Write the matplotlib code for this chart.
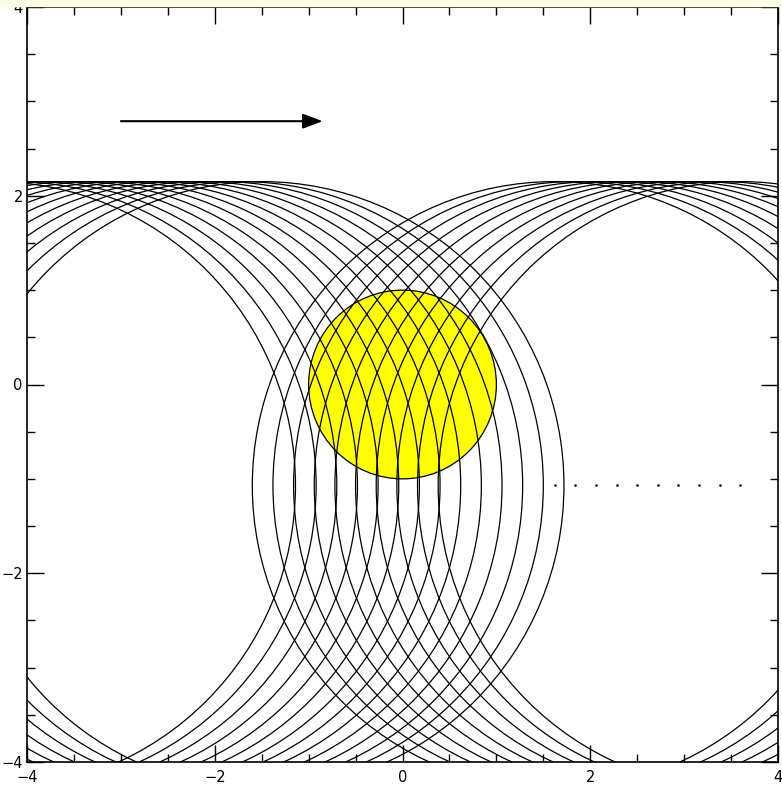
import matplotlib
matplotlib.use('Agg')
import matplotlib.pyplot as plt
from matplotlib.patches import Circle, Rectangle

# wavefront circles
center_y = -1.07
radius = 3.22
left_centers = [-1.50, -1.72, -1.94, -2.16, -2.38, -2.60, -2.82,
                -3.04, -3.26, -3.48, -3.70, -3.92, -4.14, -4.36]
right_centers = [1.62, 1.84, 2.06, 2.28, 2.50, 2.72, 2.94, 3.16, 3.38, 3.60]

# the yellow body and the arrow
body_x, body_y, body_r = 0.0, 0.0, 1.0
arrow_start = (-3.0, 2.79)
arrow_end = (-0.85, 2.79)

ticks = [-4, -2, 0, 2, 4]

fig = plt.figure(figsize=(7.82, 7.90), dpi=100)
fig.patches.append(Rectangle((0, 0.992), 1, 0.008, transform=fig.transFigure,
                             color='#fdfde6', zorder=0))
ax = fig.add_axes([27 / 782, 28 / 790, 751 / 782, 755 / 790])

ax.add_patch(Circle((body_x, body_y), body_r, facecolor='#ffff00',
                    edgecolor='k', linewidth=0.9, zorder=1))

for cx in left_centers + right_centers:
    ax.add_patch(Circle((cx, center_y), radius, fill=False,
                        edgecolor='k', linewidth=0.9, zorder=2))

# small dots marking the right-hand centres
ax.plot(right_centers, [center_y] * len(right_centers), 'ks',
        markersize=0.8, zorder=3)

ax.annotate('', xy=arrow_end, xytext=arrow_start,
            arrowprops=dict(arrowstyle='-|>,head_length=1.2,head_width=0.45',
                            color='k', lw=1.5, shrinkA=0, shrinkB=0))

ax.set_xlim(-4, 4)
ax.set_ylim(-4, 4)
ax.set_xticks(ticks)
ax.set_yticks(ticks)
ax.set_xticks([t / 2 for t in range(-8, 9)], minor=True)
ax.set_yticks([t / 2 for t in range(-8, 9)], minor=True)
ax.tick_params(which='both', direction='in', top=True, right=True,
               width=1.0, labelsize=10.5)
ax.tick_params(which='major', length=12)
ax.tick_params(which='minor', length=5.5)
ax.tick_params(axis='x', pad=6)
ax.tick_params(axis='y', pad=3)
for s in ax.spines.values():
    s.set_linewidth(1.2)

fig.savefig('out.png', dpi=100)
